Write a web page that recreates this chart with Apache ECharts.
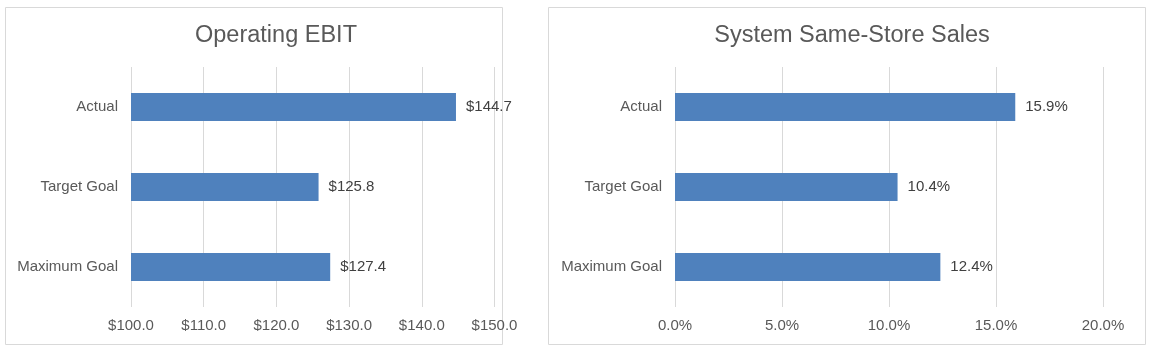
<!DOCTYPE html>
<html>
<head>
<meta charset="utf-8">
<script src="https://cdn.jsdelivr.net/npm/echarts@6/dist/echarts.min.js"></script>
<style>
  html, body { margin: 0; padding: 0; background: #fff; }
  #chart { width: 1152px; height: 352px; }
</style>
</head>
<body>
<div id="chart"></div>
<script>
const categories = ['Actual', 'Target Goal', 'Maximum Goal']
const ebitValues = [144.7, 125.8, 127.4]
const salesValues = [15.9, 10.4, 12.4]
const ebitTicks = { min: 100, max: 150, interval: 10 }
const salesTicks = { min: 0, max: 20, interval: 5 }

const FONT = '"Liberation Sans", Arial, sans-serif'
const barColor = '#4F81BD'

const panel = (x, w) => ({
  type: 'rect',
  shape: { x: x, y: 7.5, width: w, height: 337 },
  style: { fill: 'none', stroke: '#d9d9d9', lineWidth: 1 },
  silent: true
})

const valueAxis = (idx, ticks, fmt) => ({
  type: 'value',
  gridIndex: idx,
  min: ticks.min,
  max: ticks.max,
  interval: ticks.interval,
  axisLine: { show: false },
  axisTick: { show: false },
  splitLine: { lineStyle: { color: '#d9d9d9', width: 1 } },
  axisLabel: { color: '#595959', fontSize: 15, fontFamily: FONT, margin: 11, formatter: fmt }
})

const catAxis = (idx) => ({
  type: 'category',
  gridIndex: idx,
  data: categories,
  inverse: true,
  axisLine: { show: false },
  axisTick: { show: false },
  axisLabel: { color: '#595959', fontSize: 15, fontFamily: FONT, margin: 13 }
})

const barSeries = (idx, values, fmt) => ({
  type: 'bar',
  xAxisIndex: idx,
  yAxisIndex: idx,
  data: values,
  barWidth: 28,
  itemStyle: { color: barColor },
  label: {
    show: true,
    position: 'right',
    distance: 10,
    color: '#404040',
    fontSize: 15,
    fontFamily: FONT,
    formatter: p => fmt(p.value)
  }
})

const chart = echarts.init(document.getElementById('chart'))

chart.setOption({
  animation: false,
  graphic: [panel(5.5, 497), panel(548.5, 597)],
  title: [
    { text: 'Operating EBIT', left: 271, top: 19, textAlign: 'center',
      textStyle: { color: '#595959', fontSize: 23.5, fontWeight: 'normal', fontFamily: FONT } },
    { text: 'System Same-Store Sales', left: 847, top: 19, textAlign: 'center',
      textStyle: { color: '#595959', fontSize: 23.5, fontWeight: 'normal', fontFamily: FONT } }
  ],
  grid: [
    { left: 131, right: 657.5, top: 67, height: 240 },
    { left: 675, right: 49, top: 67, height: 240 }
  ],
  xAxis: [
    valueAxis(0, ebitTicks, v => '$' + v.toFixed(1)),
    valueAxis(1, salesTicks, v => v.toFixed(1) + '%')
  ],
  yAxis: [catAxis(0), catAxis(1)],
  series: [
    barSeries(0, ebitValues, v => '$' + v.toFixed(1)),
    barSeries(1, salesValues, v => v.toFixed(1) + '%')
  ]
})
</script>
</body>
</html>
